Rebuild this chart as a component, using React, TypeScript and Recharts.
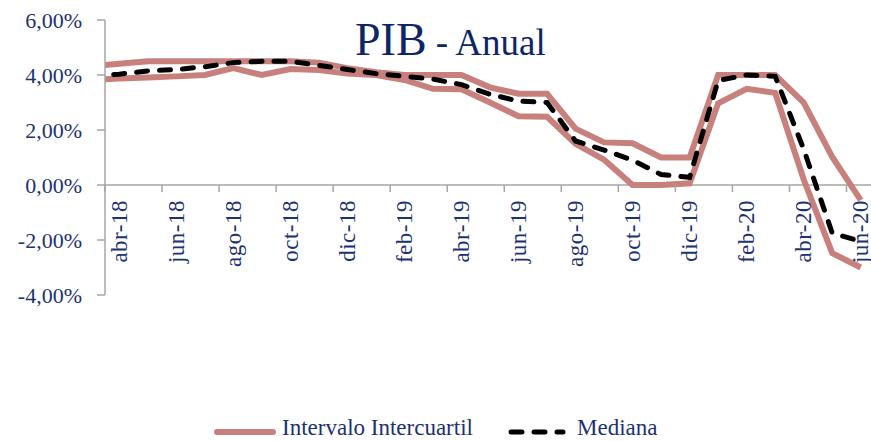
import { LineChart, Line, XAxis, YAxis, ReferenceLine, Legend } from 'recharts';

// monthly survey; mar-18 only feeds the segment clipped at the left edge
const months = [
  'mar-18', 'abr-18', 'may-18', 'jun-18', 'jul-18', 'ago-18', 'sep-18', 'oct-18', 'nov-18', 'dic-18',
  'ene-19', 'feb-19', 'mar-19', 'abr-19', 'may-19', 'jun-19', 'jul-19', 'ago-19', 'sep-19', 'oct-19',
  'nov-19', 'dic-19', 'ene-20', 'feb-20', 'mar-20', 'abr-20', 'may-20', 'jun-20',
];
const intervaloBajo = [
  3.82, 3.87, 3.91, 3.95, 4.0, 4.25, 4.0, 4.22, 4.18, 4.05,
  4.0, 3.82, 3.5, 3.48, 3.0, 2.5, 2.48, 1.5, 0.92, 0.0,
  0.0, 0.06, 2.97, 3.5, 3.35, 0.2, -2.48, -3.0,
];
const intervaloAlto = [
  4.31, 4.41, 4.5, 4.5, 4.5, 4.5, 4.5, 4.5, 4.45, 4.25,
  4.1, 4.0, 4.0, 4.0, 3.55, 3.32, 3.32, 2.05, 1.55, 1.52,
  1.0, 1.0, 4.0, 4.0, 4.0, 3.0, 1.02, -0.55,
];
const mediana = [
  3.97, 4.03, 4.15, 4.2, 4.3, 4.45, 4.5, 4.5, 4.35, 4.2,
  4.05, 3.95, 3.85, 3.65, 3.3, 3.05, 3.0, 1.6, 1.27, 0.9,
  0.38, 0.28, 3.8, 4.0, 3.95, 1.3, -1.75, -2.05,
];
const yTicks = [-4, -2, 0, 2, 4, 6];

const W = 880;
const H = 441;
const MARGIN = { top: 20, right: 5, left: 0, bottom: 0 };
const Y_AXIS_W = 105;
const LEGEND_H = 30;
const X_AXIS_H = 146 - LEGEND_H;
const X_MIN = -0.5;
const X_MAX = 26.5;
const Y_MIN = -4;
const Y_MAX = 6;

const PLOT_W = W - MARGIN.left - MARGIN.right - Y_AXIS_W;
const PLOT_H = H - MARGIN.top - MARGIN.bottom - X_AXIS_H - LEGEND_H;
const zeroShift = (PLOT_H * (0 - Y_MIN)) / (Y_MAX - Y_MIN);
const monthPx = PLOT_W / (X_MAX - X_MIN);

const NAVY = '#1D3270';
const PINK = '#C8807D';
const AXIS = '#A6A6A6';
const FONT = '"Liberation Serif", "Times New Roman", serif';

const data = months.map((mes, i) => ({
  idx: i - 1,
  mes,
  bajo: intervaloBajo[i],
  alto: intervaloAlto[i],
  mediana: mediana[i],
}));

// tick marks sit on the boundary before every second month
const xTicks = data.filter((d) => d.idx >= 0 && d.idx % 2 === 0).map((d) => d.idx - 0.5);

const pct = (v: number) => `${v.toFixed(2).replace('.', ',')}%`;

const MonthTick = (props: any) => {
  const { x, y, payload } = props;
  const zy = y - zeroShift;
  const entry = data.find((d) => d.idx === payload.value + 0.5);
  const tx = x + monthPx / 2 + 7.5;
  const ty = zy + 15;
  return (
    <g>
      <line x1={x} y1={zy} x2={x} y2={zy + 7} stroke={AXIS} strokeWidth={1.5} />
      <text
        x={tx}
        y={ty}
        transform={`rotate(-90, ${tx}, ${ty})`}
        textAnchor="end"
        fill={NAVY}
        fontSize={23}
        letterSpacing={0.5}
        fontFamily={FONT}
      >
        {entry?.mes}
      </text>
    </g>
  );
};

const LegendBox = () => (
  <svg width={871} height={LEGEND_H} style={{ display: 'block' }}>
    <line x1={217} x2={273} y1={21} y2={21} stroke={PINK} strokeWidth={6} strokeLinecap="round" />
    <text x={282} y={24} fill={NAVY} fontSize={23} fontFamily={FONT}>
      Intervalo Intercuartil
    </text>
    <line
      x1={511}
      x2={563}
      y1={21}
      y2={21}
      stroke="#000"
      strokeWidth={5}
      strokeDasharray="11 12"
      strokeLinecap="round"
    />
    <text x={577} y={24} fill={NAVY} fontSize={23} fontFamily={FONT}>
      Mediana
    </text>
  </svg>
);

export default function App() {
  return (
    <div
      style={{
        position: 'absolute',
        left: 0,
        top: 0,
        width: 871,
        height: 441,
        overflow: 'hidden',
        background: '#fff',
      }}
    >
      <LineChart width={W} height={H} data={data} margin={MARGIN}>
        <XAxis
          type="number"
          dataKey="idx"
          domain={[X_MIN, X_MAX]}
          allowDataOverflow
          ticks={xTicks}
          interval={0}
          axisLine={false}
          tickLine={false}
          tickSize={0}
          tickMargin={0}
          height={X_AXIS_H}
          tick={<MonthTick />}
        />
        <YAxis
          domain={[Y_MIN, Y_MAX]}
          ticks={yTicks}
          width={Y_AXIS_W}
          tickFormatter={pct}
          tickSize={8}
          tickMargin={15}
          axisLine={{ stroke: AXIS, strokeWidth: 1.5 }}
          tickLine={{ stroke: AXIS, strokeWidth: 1.5 }}
          tick={{ fill: NAVY, fontSize: 22, fontFamily: FONT }}
        />
        <ReferenceLine y={0} stroke={AXIS} strokeWidth={1.5} />
        <Legend
          verticalAlign="bottom"
          align="left"
          height={LEGEND_H}
          wrapperStyle={{ left: 0, bottom: 0, width: 871, height: LEGEND_H }}
          content={<LegendBox />}
        />
        <Line dataKey="alto" stroke={PINK} strokeWidth={6} dot={false} isAnimationActive={false} />
        <Line dataKey="bajo" stroke={PINK} strokeWidth={6} dot={false} isAnimationActive={false} />
        <Line
          dataKey="mediana"
          stroke="#000"
          strokeWidth={5}
          strokeDasharray="11 12"
          strokeLinecap="round"
          dot={false}
          isAnimationActive={false}
        />
      </LineChart>
      <svg
        width={871}
        height={70}
        style={{ position: 'absolute', left: 0, top: 0, pointerEvents: 'none' }}
      >
        <text x={355} y={55} fill="#0E2566" fontFamily={FONT}>
          <tspan fontSize={46}>PIB</tspan>
          <tspan fontSize={37}> - Anual</tspan>
        </text>
      </svg>
    </div>
  );
}
